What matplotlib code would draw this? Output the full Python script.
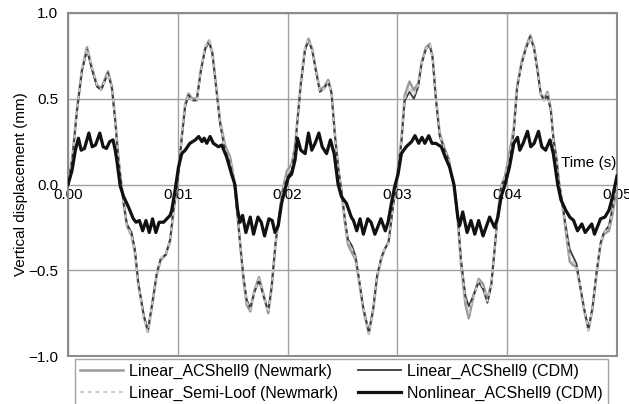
import matplotlib.pyplot as plt
import numpy as np

plt.rcParams['font.family'] = ['Liberation Sans', 'DejaVu Sans']

# time (ms) of the linear curves
t_lin = [0, 0.4, 0.82, 1.27, 1.73, 2.18, 2.64, 3.03, 3.64, 4.0, 4.3, 4.6, 4.85, 5.06, 5.36, 5.8,
         6.1, 6.4, 6.9, 7.27, 7.6, 8.1, 8.45, 8.9, 9.3, 9.6, 9.95, 10.36, 10.67, 10.97, 11.33,
         11.73, 12.1, 12.5, 12.85, 13.15, 13.5, 13.85, 14.3, 14.76, 15.15, 15.45, 15.67, 15.97,
         16.27, 16.6, 16.97, 17.4, 17.8, 18.24, 18.55, 18.9, 19.2, 19.55, 19.95, 20.36, 20.67,
         20.9, 21.2, 21.58, 21.9, 22.24, 22.58, 22.94, 23.33, 23.7, 24.0, 24.3, 24.6, 24.9, 25.2,
         25.5, 25.88, 26.2, 26.5, 26.9, 27.4, 27.8, 28.15, 28.55, 28.9, 29.2, 29.6, 29.9, 30.36,
         30.67, 31.1, 31.5, 31.9, 32.2, 32.6, 32.94, 33.2, 33.5, 33.85, 34.3, 34.67, 34.9, 35.2,
         35.5, 35.8, 36.2, 36.5, 36.9, 37.4, 37.8, 38.2, 38.55, 38.85, 39.15, 39.45, 39.8, 40.2,
         40.6, 40.9, 41.3, 41.7, 42.1, 42.45, 42.76, 43.06, 43.36, 43.67, 43.97, 44.2, 44.5, 44.7,
         45.03, 45.33, 45.7, 46.0, 46.3, 46.6, 47.0, 47.4, 47.76, 48.1, 48.5, 48.8, 49.27, 49.6, 50.0]

lin_cdm = [0, 0.15, 0.43, 0.66, 0.785, 0.67, 0.57, 0.55, 0.65, 0.56, 0.37, 0.14, 0.0, -0.11, -0.23, -0.28,
           -0.38, -0.57, -0.76, -0.85, -0.72, -0.51, -0.43, -0.41, -0.32, -0.15, 0.0, 0.27, 0.45, 0.52, 0.49,
           0.49, 0.66, 0.79, 0.83, 0.76, 0.56, 0.35, 0.2, 0.12, 0.0, -0.19, -0.34, -0.53,
           -0.67, -0.72, -0.63, -0.56, -0.65, -0.74, -0.59, -0.34, -0.19, -0.05, 0.04, 0.08, 0.2,
           0.37, 0.58, 0.78, 0.84, 0.78, 0.66, 0.54, 0.56, 0.6, 0.53, 0.29, 0.1, -0.03, -0.19,
           -0.32, -0.36, -0.42, -0.55, -0.72, -0.86, -0.72, -0.53, -0.42, -0.37, -0.34, -0.13, 0.0, 0.24,
           0.49, 0.54, 0.50, 0.57, 0.70, 0.79, 0.81, 0.74, 0.50, 0.28, 0.2, 0.14, 0.06, -0.01,
           -0.19, -0.44, -0.65, -0.71, -0.65, -0.57, -0.61, -0.69, -0.59, -0.38, -0.17, -0.01, 0.03, 0.12,
           0.30, 0.56, 0.70, 0.79, 0.86, 0.79, 0.66, 0.525, 0.49, 0.52, 0.43, 0.27, 0.14, 0.02,
           -0.11, -0.24, -0.38, -0.42, -0.46, -0.57, -0.72, -0.84, -0.72, -0.53, -0.34, -0.28, -0.24, -0.13, 0.05]

lin_newmark = [0, 0.16, 0.44, 0.67, 0.80, 0.68, 0.58, 0.56, 0.66, 0.57, 0.38, 0.15, 0.01, -0.10, -0.24, -0.30,
               -0.40, -0.58, -0.77, -0.86, -0.73, -0.52, -0.44, -0.41, -0.33, -0.16, 0.0, 0.28, 0.47, 0.53, 0.50,
               0.50, 0.67, 0.80, 0.84, 0.77, 0.57, 0.37, 0.23, 0.16, 0.02, -0.18, -0.34, -0.55,
               -0.70, -0.74, -0.62, -0.54, -0.64, -0.75, -0.60, -0.35, -0.19, -0.03, 0.08, 0.12, 0.22,
               0.38, 0.59, 0.79, 0.85, 0.79, 0.67, 0.55, 0.57, 0.61, 0.54, 0.30, 0.11, -0.04, -0.21,
               -0.35, -0.40, -0.44, -0.56, -0.73, -0.87, -0.73, -0.54, -0.43, -0.37, -0.33, -0.12, 0.01, 0.26,
               0.52, 0.60, 0.55, 0.59, 0.71, 0.80, 0.82, 0.75, 0.51, 0.30, 0.21, 0.15, 0.06, -0.02,
               -0.21, -0.47, -0.70, -0.78, -0.66, -0.55, -0.58, -0.67, -0.58, -0.38, -0.17, -0.01, 0.05, 0.18,
               0.33, 0.57, 0.71, 0.80, 0.87, 0.80, 0.67, 0.53, 0.50, 0.54, 0.44, 0.28, 0.15, 0.02,
               -0.12, -0.27, -0.45, -0.47, -0.48, -0.58, -0.73, -0.85, -0.73, -0.54, -0.35, -0.29, -0.27, -0.17, 0.0]

lin_semiloof = [0, 0.15, 0.43, 0.67, 0.79, 0.68, 0.58, 0.55, 0.65, 0.56, 0.37, 0.15, 0.0, -0.11, -0.24, -0.29,
                -0.39, -0.58, -0.77, -0.86, -0.72, -0.51, -0.43, -0.41, -0.32, -0.15, 0.0, 0.28, 0.46, 0.52, 0.49,
                0.49, 0.66, 0.80, 0.84, 0.76, 0.56, 0.36, 0.21, 0.14, 0.01, -0.19, -0.34, -0.54,
                -0.68, -0.73, -0.63, -0.55, -0.65, -0.75, -0.59, -0.34, -0.19, -0.04, 0.06, 0.10, 0.21,
                0.37, 0.58, 0.79, 0.85, 0.78, 0.66, 0.54, 0.56, 0.60, 0.53, 0.29, 0.10, -0.03, -0.20,
                -0.33, -0.38, -0.43, -0.55, -0.72, -0.87, -0.72, -0.53, -0.42, -0.37, -0.34, -0.13, 0.0, 0.25,
                0.50, 0.57, 0.52, 0.58, 0.70, 0.79, 0.82, 0.74, 0.50, 0.29, 0.2, 0.14, 0.06, -0.01,
                -0.20, -0.45, -0.67, -0.75, -0.66, -0.56, -0.60, -0.68, -0.59, -0.38, -0.17, -0.01, 0.04, 0.15,
                0.31, 0.56, 0.70, 0.79, 0.86, 0.79, 0.66, 0.53, 0.49, 0.53, 0.43, 0.27, 0.14, 0.02,
                -0.11, -0.25, -0.42, -0.45, -0.47, -0.57, -0.72, -0.85, -0.72, -0.53, -0.34, -0.28, -0.25, -0.15, 0.03]

# time (ms) and values of the nonlinear curve
t_nl = [0, 0.36, 0.67, 0.95, 1.2, 1.5, 1.9, 2.2, 2.5, 2.9, 3.2, 3.5, 3.8, 4.1, 4.3, 4.45, 4.76, 5.06,
        5.5, 5.95, 6.2, 6.5, 6.8, 7.1, 7.4, 7.7, 8.0, 8.3, 8.7, 9.0, 9.3, 9.45, 9.76, 10.06, 10.36,
        10.67, 11.1, 11.6, 11.9, 12.2, 12.4, 12.64, 12.94, 13.24, 13.7, 14.0, 14.45, 14.9, 15.2,
        15.45, 15.67, 15.9, 16.2, 16.6, 16.9, 17.3, 17.6, 17.9, 18.3, 18.6, 18.85, 19.15, 19.45,
        19.76, 20.06, 20.36, 20.67, 20.9, 21.2, 21.6, 21.9, 22.2, 22.5, 22.85, 23.15, 23.55, 23.9,
        24.24, 24.6, 24.9, 25.36, 25.8, 26.0, 26.3, 26.6, 26.9, 27.3, 27.6, 27.95, 28.5, 28.9,
        29.15, 29.45, 29.76, 30.06, 30.36, 30.8, 31.3, 31.6, 31.94, 32.24, 32.5, 32.85, 33.15,
        33.5, 34.0, 34.36, 34.76, 35.15, 35.5, 35.67, 35.95, 36.35, 36.7, 37.05, 37.4, 37.8, 38.4,
        38.85, 39.15, 39.45, 39.76, 40.2, 40.6, 40.94, 41.15, 41.45, 41.85, 42.15, 42.45, 42.85,
        43.15, 43.5, 43.9, 44.2, 44.6, 44.9, 45.33, 45.7, 46.05, 46.4, 46.8, 47.1, 47.7, 47.95,
        48.5, 48.9, 49.27, 49.6, 50.0]
nonlin_cdm = [0, 0.08, 0.2, 0.27, 0.2, 0.21, 0.3, 0.22, 0.23, 0.3, 0.22, 0.21, 0.25, 0.26, 0.2, 0.14, -0.01, -0.07,
              -0.13, -0.2, -0.22, -0.21, -0.27, -0.21, -0.28, -0.2, -0.28, -0.22, -0.22, -0.2, -0.18, -0.15, -0.03, 0.1, 0.18,
              0.2, 0.24, 0.26, 0.28, 0.25, 0.27, 0.24, 0.28, 0.24, 0.22, 0.23, 0.16, 0.06, 0.0,
              -0.15, -0.22, -0.18, -0.28, -0.19, -0.29, -0.19, -0.22, -0.3, -0.2, -0.21, -0.28, -0.24, -0.11,
              -0.03, 0.04, 0.06, 0.14, 0.27, 0.2, 0.18, 0.3, 0.2, 0.24, 0.3, 0.22, 0.18, 0.26,
              0.18, 0.0, -0.07, -0.11, -0.19, -0.21, -0.27, -0.2, -0.29, -0.2, -0.22, -0.29, -0.2, -0.27,
              -0.22, -0.11, -0.01, 0.06, 0.18, 0.22, 0.25, 0.285, 0.24, 0.275, 0.24, 0.285, 0.24,
              0.24, 0.22, 0.16, 0.1, 0.0, -0.19, -0.24, -0.16, -0.28, -0.21, -0.29, -0.21, -0.3, -0.19,
              -0.25, -0.19, -0.07, -0.01, 0.1, 0.24, 0.275, 0.2, 0.24, 0.31, 0.22, 0.24, 0.31,
              0.22, 0.2, 0.26, 0.18, 0.0, -0.09, -0.15, -0.19, -0.21, -0.27, -0.23, -0.28, -0.23, -0.29,
              -0.2, -0.19, -0.15, -0.07, 0.05]

x_ticks = [0.00, 0.01, 0.02, 0.03, 0.04, 0.05]
y_ticks = [-1.0, -0.5, 0.0, 0.5, 1.0]
y_labels = ['\u22121.0', '\u22120.5', '0.0', '0.5', '1.0']

tl = np.array(t_lin) / 1000
tn = np.array(t_nl) / 1000

fig = plt.figure(figsize=(6.29, 4.04), dpi=100)
ax = fig.add_axes([68 / 629, 1 - 356 / 404, 549 / 629, 343 / 404])

ax.plot(tl, lin_newmark, color='#9a9a9a', lw=1.8, label='Linear_ACShell9 (Newmark)', zorder=3)
ax.plot(tl, lin_cdm, color='#3a3a3a', lw=1.3, label='Linear_ACShell9 (CDM)', zorder=4)
ax.plot(tl, lin_semiloof, color='#c8c8c8', lw=1.4, ls=(0, (2, 2)), label='Linear_Semi-Loof (Newmark)', zorder=5)
ax.plot(tn, nonlin_cdm, color='#111111', lw=2.3, label='Nonlinear_ACShell9 (CDM)', zorder=6)

ax.set_xlim(0, 0.05)
ax.set_ylim(-1.0, 1.0)
ax.set_xticks(x_ticks)
ax.set_xticklabels([])
ax.set_yticks(y_ticks)
ax.set_yticklabels(y_labels, fontsize=11)
ax.tick_params(length=0, pad=7)
for xt in x_ticks:
    ax.text(xt, -0.02, '%.2f' % xt, ha='center', va='top', fontsize=11, zorder=2)
ax.grid(True, color='#a0a0a0', lw=1)
ax.set_axisbelow(True)
for s in ax.spines.values():
    s.set_color('#8c8c8c')
    s.set_linewidth(1.5)

ax.set_ylabel('Vertical displacement (mm)', fontsize=11, labelpad=0)
ax.text(0.0499, 0.125, 'Time (s)', ha='right', va='center', fontsize=11, zorder=7)

h, l = ax.get_legend_handles_labels()
order = [0, 2, 1, 3]
leg = fig.legend([h[i] for i in order], [l[i] for i in order], ncol=2, loc='upper left',
                 bbox_to_anchor=(75 / 629, 1 - 359 / 404), fontsize=11.5, frameon=True,
                 fancybox=False, edgecolor='#8c8c8c', handlelength=2.7, handletextpad=0.4,
                 columnspacing=1.2, labelspacing=0.42, borderpad=0.3, borderaxespad=0)
leg.get_frame().set_linewidth(1.0)

fig.savefig('out.png', dpi=100)
